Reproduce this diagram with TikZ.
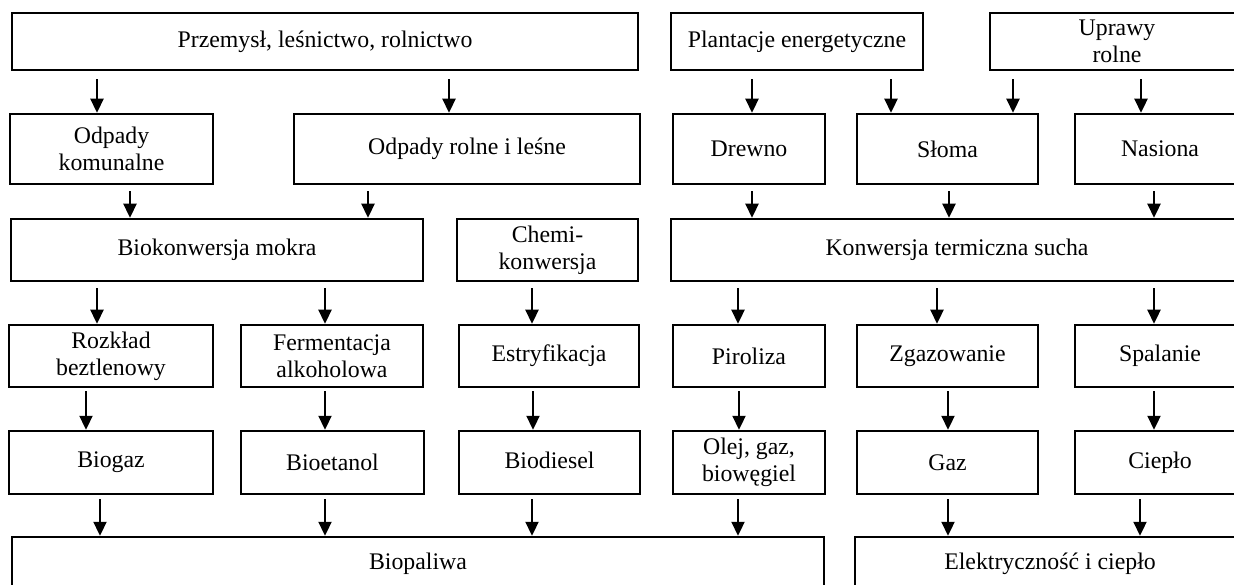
\documentclass[tikz,border=0pt]{standalone}
\usepackage{fontspec}
\setmainfont{Liberation Serif}
\usetikzlibrary{arrows.meta,calc}
\newcommand\mybox[6]{\node[bx,minimum width={#4-#2},minimum height={#5-#3}] (#1) at ({(#2+#4)/2},{(#3+#5)/2}) {#6};}
\newcommand\myarr[4]{\draw[arr] ($(#1.south -| #3,0)+(0,#4)$) -- (#2.north -| #3,0);}
\begin{document}
\begin{tikzpicture}[x=1pt,y=-1pt,
  bx/.style={draw,line width=2.5pt,inner sep=0pt,align=center,font=\fontsize{23.8}{27}\selectfont},
  arr/.style={line width=2.3pt,-{Triangle[length=14pt,width=13pt]}}]
\useasboundingbox (0,0) rectangle (1234,585);
\clip (0,0) rectangle (1234,585);
\fill[white] (0,0) rectangle (1234,585);
% row 1
\mybox{P}{12}{13}{638}{70}{Przemysł, leśnictwo, rolnictwo}
\mybox{Pl}{671}{13}{923}{70}{Plantacje energetyczne}
\mybox{U}{990}{13}{1244}{70}{Uprawy\\rolne}
% row 2
\mybox{OK}{10}{114}{213}{184}{Odpady\\komunalne}
\mybox{OR}{294}{114}{640}{184}{Odpady rolne i leśne}
\mybox{D}{673}{114}{825}{184}{Drewno}
\mybox{S}{857}{114}{1038}{184}{Słoma}
\mybox{N}{1075}{114}{1245}{184}{Nasiona}
% row 3
\mybox{B}{11}{219}{423}{281}{Biokonwersja mokra}
\mybox{C}{457}{219}{638}{281}{Chemi-\\konwersja}
\mybox{K}{671}{219}{1243}{281}{Konwersja termiczna sucha}
% row 4
\mybox{R}{9}{325}{213}{387}{Rozkład\\beztlenowy}
\mybox{F}{241}{325}{423}{387}{Fermentacja\\alkoholowa}
\mybox{E}{459}{325}{639}{387}{Estryfikacja}
\mybox{Pi}{673}{325}{825}{387}{Piroliza}
\mybox{Z}{857}{325}{1038}{387}{Zgazowanie}
\mybox{Sp}{1075}{325}{1245}{387}{Spalanie}
% row 5
\mybox{Bg}{9}{431}{213}{494}{\raisebox{5pt}{Biogaz}}
\mybox{Be}{241}{431}{424}{494}{\raisebox{-2pt}{Bioetanol}}
\mybox{Bd}{459}{431}{640}{494}{\raisebox{5pt}{Biodiesel}}
\mybox{O}{673}{431}{825}{494}{Olej, gaz,\\biowęgiel}
\mybox{G}{857}{431}{1038}{494}{\raisebox{-2pt}{Gaz}}
\mybox{Ci}{1075}{431}{1245}{494}{\raisebox{-2pt}{Ciepło}}
% row 6
\mybox{BP}{12}{537}{824}{590}{Biopaliwa}
\mybox{EL}{855}{537}{1245}{590}{Elektryczność i ciepło}
% arrows row 1 -> 2
\myarr{P}{OK}{97}{8}
\myarr{P}{OR}{449}{8}
\myarr{Pl}{D}{752}{8}
\myarr{Pl}{S}{891}{8}
\myarr{U}{S}{1013}{8}
\myarr{U}{N}{1141}{8}
% arrows row 2 -> 3
\myarr{OK}{B}{130}{6}
\myarr{OR}{B}{368}{6}
\myarr{D}{K}{752}{6}
\myarr{S}{K}{949}{6}
\myarr{N}{K}{1154}{6}
% arrows row 3 -> 4
\myarr{B}{R}{97}{6}
\myarr{B}{F}{325}{6}
\myarr{C}{E}{532}{6}
\myarr{K}{Pi}{738}{6}
\myarr{K}{Z}{937}{6}
\myarr{K}{Sp}{1154}{6}
% arrows row 4 -> 5
\myarr{R}{Bg}{86}{3}
\myarr{F}{Be}{325}{3}
\myarr{E}{Bd}{533}{3}
\myarr{Pi}{O}{739}{3}
\myarr{Z}{G}{948}{3}
\myarr{Sp}{Ci}{1154}{3}
% arrows row 5 -> 6
\myarr{Bg}{BP}{100}{4}
\myarr{Be}{BP}{325}{4}
\myarr{Bd}{BP}{532}{4}
\myarr{O}{BP}{738}{4}
\myarr{G}{EL}{948}{4}
\myarr{Ci}{EL}{1140}{4}
\end{tikzpicture}
\end{document}
